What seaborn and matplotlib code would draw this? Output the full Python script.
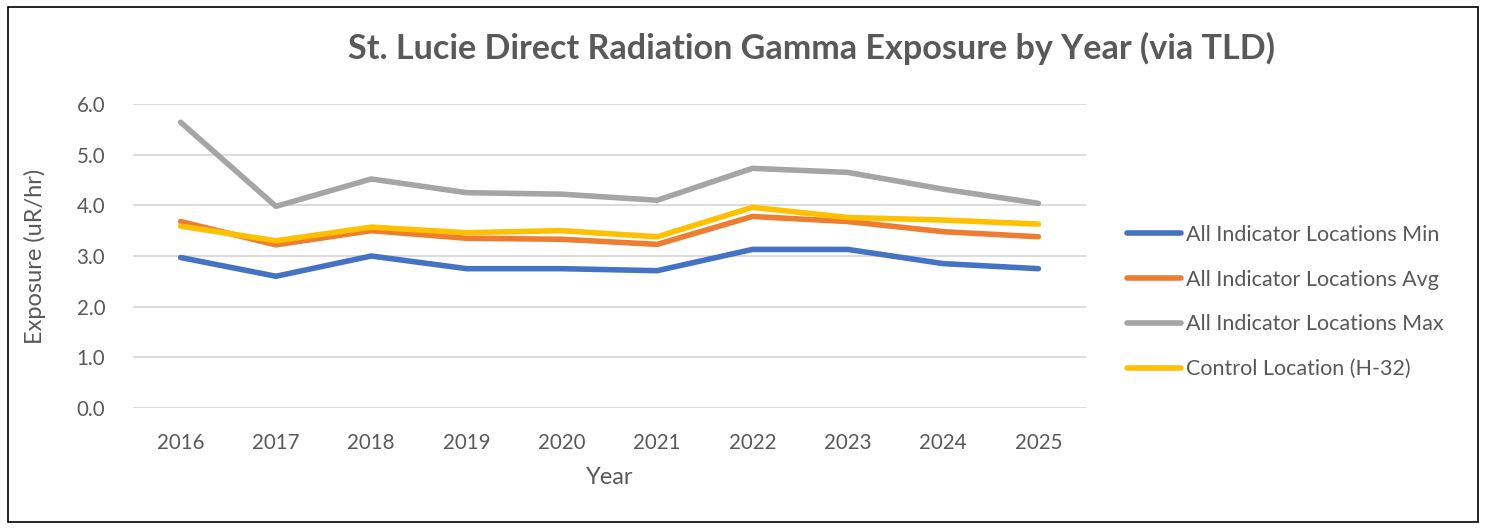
import pandas as pd
import numpy as np
import matplotlib
matplotlib.use('Agg')
import matplotlib.pyplot as plt
from matplotlib.patches import Rectangle
import seaborn as sns

# Data
years = [2016, 2017, 2018, 2019, 2020, 2021, 2022, 2023, 2024, 2025]
ind_min = [2.97, 2.60, 3.00, 2.75, 2.75, 2.71, 3.13, 3.13, 2.85, 2.75]
ind_avg = [3.68, 3.22, 3.50, 3.35, 3.33, 3.23, 3.78, 3.68, 3.48, 3.38]
ind_max = [5.64, 3.98, 4.52, 4.25, 4.22, 4.10, 4.73, 4.65, 4.32, 4.04]
control = [3.59, 3.30, 3.57, 3.46, 3.50, 3.38, 3.96, 3.76, 3.71, 3.63]

series_names = ['All Indicator Locations Min', 'All Indicator Locations Avg',
                'All Indicator Locations Max', 'Control Location (H-32)']
colors = ['#4472C4', '#ED7D31', '#A5A5A5', '#FFC000']

# Build long-form table for seaborn
frames = []
for name, vals in zip(series_names, [ind_min, ind_avg, ind_max, control]):
    frames.append(pd.DataFrame({'idx': np.arange(len(years)), 'value': vals, 'series': name}))
df = pd.concat(frames, ignore_index=True)

sns.set_style('white')
plt.rcParams['font.family'] = ['Lato', 'DejaVu Sans']
text_color = '#595959'

fig = plt.figure(figsize=(14.86, 5.29), dpi=100)
ax = fig.add_axes([133 / 1486, 1 - 408 / 529, (1086 - 133) / 1486, (408 - 104) / 529])

sns.lineplot(data=df, x='idx', y='value', hue='series', hue_order=series_names,
             palette=colors, linewidth=4.0, ax=ax, legend=True)

ax.set_xlim(-0.5, len(years) - 0.5)
ax.set_ylim(0, 6.0)
ax.set_xticks(range(len(years)))
ax.set_xticklabels([str(y) for y in years])
ax.set_yticks(np.arange(0, 6.01, 1.0))
ax.set_yticklabels([f'{v:.1f}' for v in np.arange(0, 6.01, 1.0)])
ax.yaxis.grid(True, color='#D9D9D9', linewidth=1.3)
ax.xaxis.grid(False)
for s in ax.spines.values():
    s.set_visible(False)
ax.tick_params(axis='both', length=0, labelsize=14.8, colors=text_color)
ax.tick_params(axis='x', pad=18)
ax.tick_params(axis='y', pad=20)

ax.set_xlabel('Year', fontsize=17, color=text_color, labelpad=10)
ax.set_ylabel('Exposure (uR/hr)', fontsize=17, color=text_color, labelpad=22)

fig.text(811 / 1486, 1 - 48 / 529, 'St. Lucie Direct Radiation Gamma Exposure by Year (via TLD)',
         ha='center', va='center', fontsize=24.6, fontweight='bold', color=text_color)

leg = ax.legend(loc='center left', bbox_to_anchor=(1108 / 1486, 1 - 302 / 529),
                bbox_transform=fig.transFigure, frameon=False, fontsize=15.5,
                handlelength=2.5, handletextpad=0.2, labelspacing=1.15)
for t in leg.get_texts():
    t.set_color(text_color)
for h in leg.get_lines():
    h.set_linewidth(4.0)

fig.patches.append(Rectangle((8 / 1486, 7 / 529), 1470 / 1486, 515 / 529,
                             transform=fig.transFigure, fill=False,
                             edgecolor='black', linewidth=1.2))

fig.savefig('out.png', dpi=100)
